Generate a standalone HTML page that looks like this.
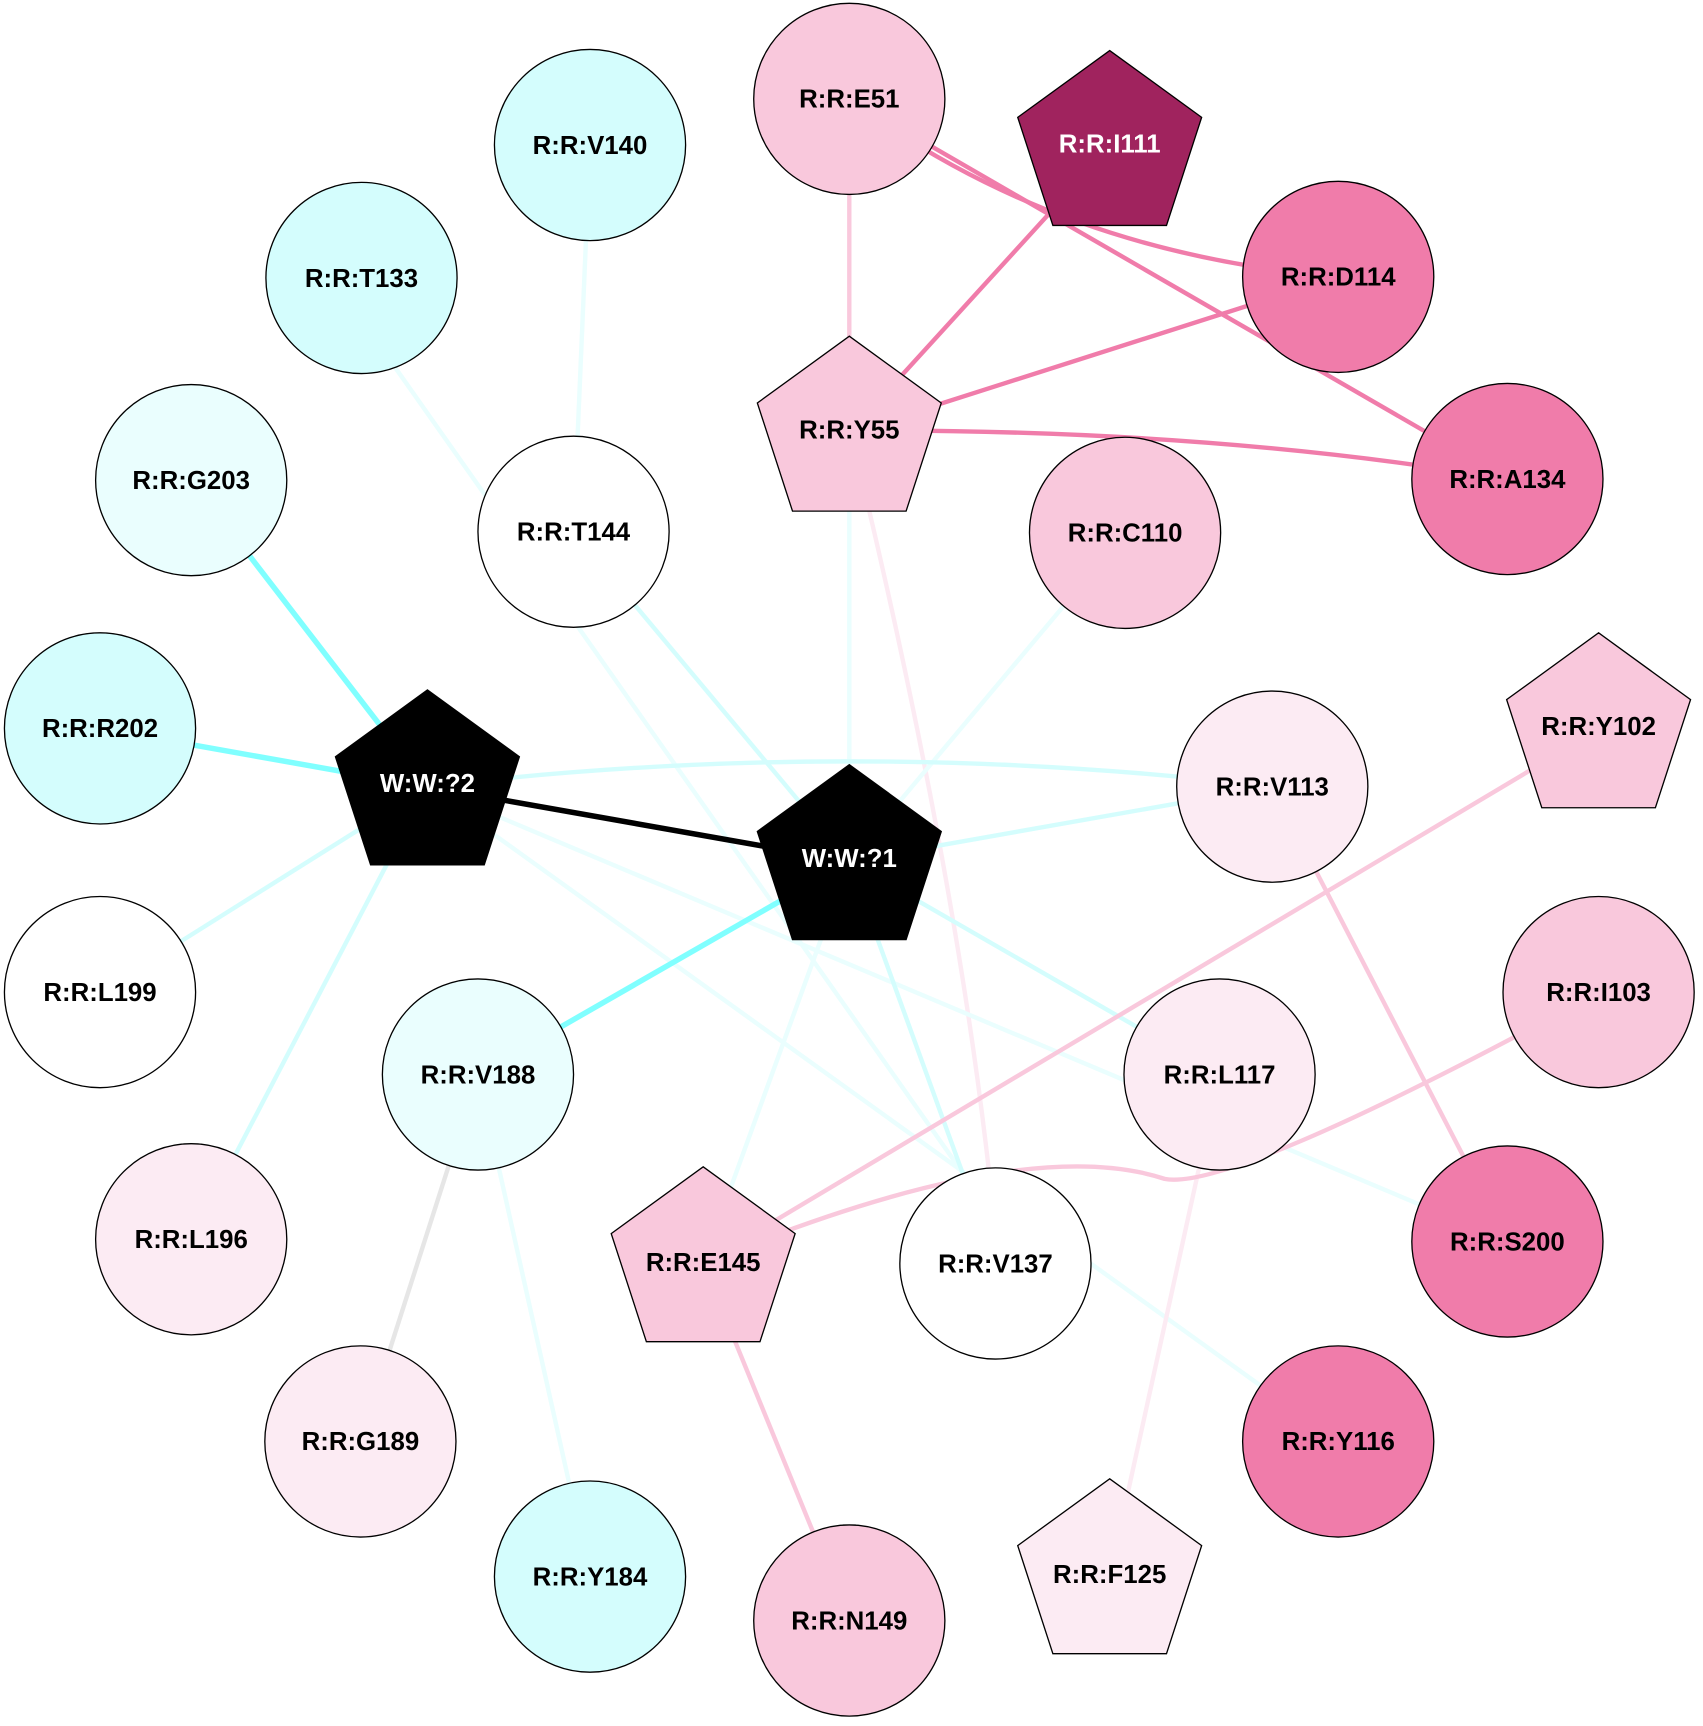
<!DOCTYPE html>
<html><head><meta charset="utf-8"><style>
html,body{margin:0;padding:0;background:#fff;}
svg{display:block;}
text{font-family:"Liberation Sans",Arial,sans-serif;font-weight:bold;font-size:23.5px;text-anchor:middle;}
</style></head><body>
<svg width="1703" height="1726" viewBox="0 0 1550 1571" xmlns="http://www.w3.org/2000/svg">
<rect width="1550" height="1571" fill="#fff"/>
<g fill="none" stroke-width="4">
<line x1="773" y1="394" x2="773" y2="784" stroke="#eafefe"/>
<path d="M790,460 Q870,800 900,1065" stroke="#fcebf3"/>
<line x1="537" y1="132" x2="522" y2="484" stroke="#eafefe"/>
<line x1="360" y1="335" x2="885" y2="1080" stroke="#eafefe"/>
<line x1="522" y1="484" x2="773" y2="784" stroke="#d4fdfd"/>
<line x1="1024" y1="485" x2="773" y2="784" stroke="#eafefe"/>
<path d="M389,716 Q773,670 1158,716" stroke="#d4fdfd"/>
<line x1="773" y1="784" x2="1158" y2="716" stroke="#d4fdfd"/>
<line x1="389" y1="716" x2="91" y2="903" stroke="#d4fdfd"/>
<line x1="389" y1="716" x2="174" y2="1128" stroke="#d4fdfd"/>
<line x1="389" y1="716" x2="1372" y2="1130" stroke="#eafefe"/>
<line x1="389" y1="716" x2="1218" y2="1312" stroke="#eafefe"/>
<line x1="773" y1="784" x2="640" y2="1150" stroke="#eafefe"/>
<line x1="773" y1="784" x2="906" y2="1150" stroke="#d4fdfd"/>
<line x1="773" y1="784" x2="1110" y2="978" stroke="#d4fdfd"/>
<line x1="435" y1="978" x2="537" y2="1435" stroke="#eafefe"/>
<line x1="435" y1="978" x2="328" y2="1312" stroke="#e6e6e6"/>
<line x1="1110" y1="978" x2="1010" y2="1434" stroke="#fcebf3"/>
<line x1="773" y1="90" x2="773" y2="394" stroke="#f9c8dc"/>
<line x1="1158" y1="716" x2="1372" y2="1130" stroke="#f9c8dc"/>
<line x1="1455" y1="664" x2="640" y2="1150" stroke="#f9c8dc"/>
<path d="M640,1150 Q930,1030 1060,1073 Q1120,1085 1455,903" stroke="#f9c8dc"/>
<line x1="640" y1="1150" x2="773" y2="1475" stroke="#f9c8dc"/>
<path d="M773,90 Q960,230 1218,252" stroke="#f07caa"/>
<line x1="773" y1="90" x2="1372" y2="436" stroke="#f07caa"/>
<line x1="1010" y1="134" x2="773" y2="394" stroke="#f07caa"/>
<line x1="1218" y1="252" x2="773" y2="394" stroke="#f07caa"/>
<path d="M773,392 Q1100,390 1372,436" stroke="#f07caa"/>
<line x1="174" y1="437" x2="389" y2="716" stroke="#80ffff" stroke-width="5"/>
<line x1="91" y1="663" x2="389" y2="716" stroke="#80ffff" stroke-width="5"/>
<line x1="773" y1="784" x2="435" y2="978" stroke="#80ffff" stroke-width="5"/>
<line x1="389" y1="716" x2="773" y2="784" stroke="#000" stroke-width="5"/>
</g>
<g stroke="#000" stroke-width="1.2">
<circle cx="773" cy="90" r="87" fill="#f9c8dc"/>
<polygon points="1010,46 1093.7,106.8 1061.7,205.2 958.3,205.2 926.3,106.8" fill="#a0235e"/>
<circle cx="1218" cy="252" r="87" fill="#f07caa"/>
<circle cx="1372" cy="436" r="87" fill="#f07caa"/>
<polygon points="773,306 856.7,366.8 824.7,465.2 721.3,465.2 689.3,366.8" fill="#f9c8dc"/>
<circle cx="1024" cy="485" r="87" fill="#f9c8dc"/>
<circle cx="537" cy="132" r="87" fill="#d4fdfd"/>
<circle cx="329" cy="253" r="87" fill="#d4fdfd"/>
<circle cx="174" cy="437" r="87" fill="#eafefe"/>
<circle cx="522" cy="484" r="87" fill="#fff"/>
<circle cx="91" cy="663" r="87" fill="#d4fdfd"/>
<polygon points="389,628 472.7,688.8 440.7,787.2 337.3,787.2 305.3,688.8" fill="#000"/>
<polygon points="773,696 856.7,756.8 824.7,855.2 721.3,855.2 689.3,756.8" fill="#000"/>
<circle cx="1158" cy="716" r="87" fill="#fcebf3"/>
<polygon points="1455,576 1538.7,636.8 1506.7,735.2 1403.3,735.2 1371.3,636.8" fill="#f9c8dc"/>
<circle cx="91" cy="903" r="87" fill="#fff"/>
<circle cx="435" cy="978" r="87" fill="#eafefe"/>
<circle cx="1110" cy="978" r="87" fill="#fcebf3"/>
<circle cx="1455" cy="903" r="87" fill="#f9c8dc"/>
<circle cx="174" cy="1128" r="87" fill="#fcebf3"/>
<polygon points="640,1062 723.7,1122.8 691.7,1221.2 588.3,1221.2 556.3,1122.8" fill="#f9c8dc"/>
<circle cx="906" cy="1150" r="87" fill="#fff"/>
<circle cx="1372" cy="1130" r="87" fill="#f07caa"/>
<circle cx="328" cy="1312" r="87" fill="#fcebf3"/>
<circle cx="1218" cy="1312" r="87" fill="#f07caa"/>
<circle cx="537" cy="1435" r="87" fill="#d4fdfd"/>
<circle cx="773" cy="1475" r="87" fill="#f9c8dc"/>
<polygon points="1010,1346 1093.7,1406.8 1061.7,1505.2 958.3,1505.2 926.3,1406.8" fill="#fcebf3"/>
</g>
<g>
<text x="773" y="98">R:R:E51</text>
<text x="1010" y="139" fill="#fff">R:R:I111</text>
<text x="1218" y="260">R:R:D114</text>
<text x="1372" y="444">R:R:A134</text>
<text x="773" y="399">R:R:Y55</text>
<text x="1024" y="493">R:R:C110</text>
<text x="537" y="140">R:R:V140</text>
<text x="329" y="261">R:R:T133</text>
<text x="174" y="445">R:R:G203</text>
<text x="522" y="492">R:R:T144</text>
<text x="91" y="671">R:R:R202</text>
<text x="389" y="721" fill="#fff">W:W:?2</text>
<text x="773" y="789" fill="#fff">W:W:?1</text>
<text x="1158" y="724">R:R:V113</text>
<text x="1455" y="669">R:R:Y102</text>
<text x="91" y="911">R:R:L199</text>
<text x="435" y="986">R:R:V188</text>
<text x="1110" y="986">R:R:L117</text>
<text x="1455" y="911">R:R:I103</text>
<text x="174" y="1136">R:R:L196</text>
<text x="640" y="1157">R:R:E145</text>
<text x="906" y="1158">R:R:V137</text>
<text x="1372" y="1138">R:R:S200</text>
<text x="328" y="1320">R:R:G189</text>
<text x="1218" y="1320">R:R:Y116</text>
<text x="537" y="1443">R:R:Y184</text>
<text x="773" y="1483">R:R:N149</text>
<text x="1010" y="1441">R:R:F125</text>
</g>
</svg>
</body></html>
